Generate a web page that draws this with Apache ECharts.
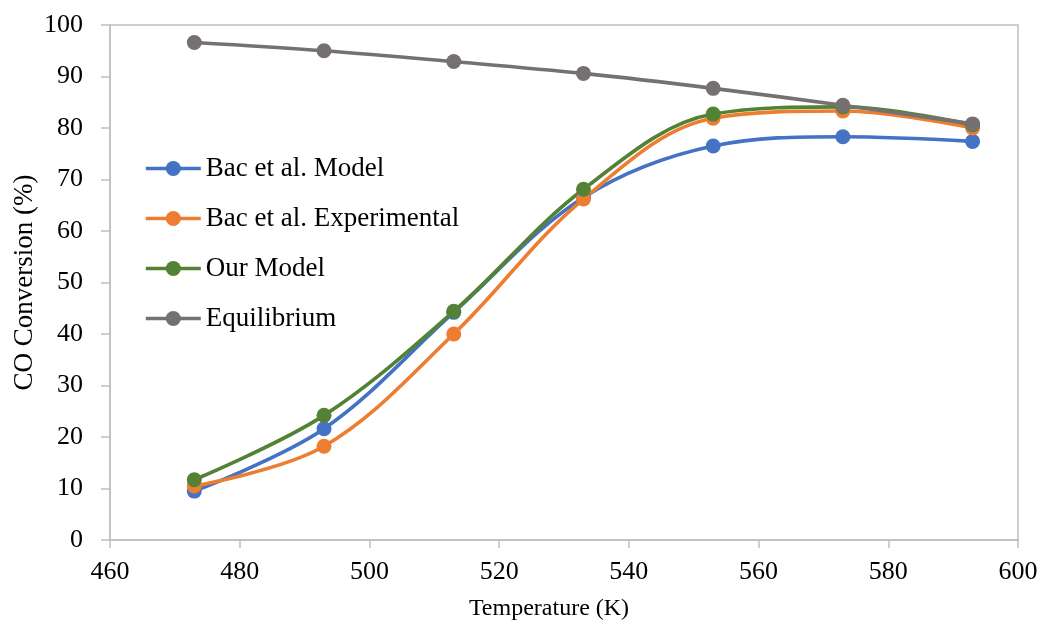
<!DOCTYPE html>
<html>
<head>
<meta charset="utf-8">
<script src="https://cdn.jsdelivr.net/npm/echarts@6/dist/echarts.min.js"></script>
<style>html,body{margin:0;padding:0;background:#fff;}#c{width:1043px;height:626px;}</style>
</head>
<body>
<div id="c"></div>
<script>
const temperatures = [473, 493, 513, 533, 553, 573, 593];
const bacModel = [9.5, 21.6, 44.2, 66.5, 76.5, 78.3, 77.4];
const bacExperimental = [10.5, 18.2, 40.0, 66.2, 81.9, 83.3, 80.0];
const ourModel = [11.7, 24.2, 44.4, 68.1, 82.7, 84.1, 80.6];
const equilibrium = [96.6, 95.0, 92.9, 90.6, 87.7, 84.4, 80.8];
const xTicks = {min: 460, max: 600, interval: 20};
const yTicks = {min: 0, max: 100, interval: 10};

const font = 'Liberation Serif, Times New Roman, serif';
const axisColor = '#bfbfbf';
function pairs(vals){ return temperatures.map((t,i)=>[t, vals[i]]); }
function mk(name, vals, color, smooth){
  return {
    name, type:'line', data: pairs(vals), smooth: smooth,
    symbol:'circle', symbolSize: 15,
    lineStyle:{color, width:3.6},
    itemStyle:{color},
    emphasis:{disabled:true}
  };
}
const chart = echarts.init(document.getElementById('c'), null, {renderer:'canvas'});
chart.setOption({
  animation:false,
  backgroundColor:'#fff',
  grid:{left:110, right:25, top:25, bottom:86, show:true, borderColor:axisColor, borderWidth:1.5, containLabel:false, outerBoundsMode:'none'},
  legend:{
    orient:'vertical', left:139, top:150, itemGap:23,
    itemWidth:55, itemHeight:19,
    lineStyle:{width:3.6},
    textStyle:{fontFamily:font, fontSize:27, color:'#000', padding:[0,0,0,0]},
    data:['Bac et al. Model','Bac et al. Experimental','Our Model','Equilibrium']
  },
  xAxis:{
    type:'value', min:xTicks.min, max:xTicks.max, interval:xTicks.interval,
    name:'Temperature (K)', nameLocation:'middle', nameGap:57, nameMoveOverlap:false,
    nameTextStyle:{fontFamily:font, fontSize:24, color:'#000', padding:[0,30,0,0]},
    axisLine:{show:true, lineStyle:{color:axisColor, width:1.5}},
    axisTick:{show:true, length:8, lineStyle:{color:axisColor, width:1.5}},
    axisLabel:{fontFamily:font, fontSize:26, color:'#000', margin:19},
    splitLine:{show:false}
  },
  yAxis:{
    type:'value', min:yTicks.min, max:yTicks.max, interval:yTicks.interval,
    name:'CO Conversion (%)', nameLocation:'middle', nameGap:72, nameMoveOverlap:false,
    nameTextStyle:{fontFamily:font, fontSize:27, color:'#000'},
    axisLine:{show:true, lineStyle:{color:axisColor, width:1.5}},
    axisTick:{show:true, length:9, lineStyle:{color:axisColor, width:1.5}},
    axisLabel:{fontFamily:font, fontSize:26, color:'#000', margin:27},
    splitLine:{show:false}
  },
  series:[
    mk('Bac et al. Model', bacModel, '#4472C4', 0.35),
    mk('Bac et al. Experimental', bacExperimental, '#ED7D31', 0.35),
    mk('Our Model', ourModel, '#548235', 0.35),
    mk('Equilibrium', equilibrium, '#767171', 0.35)
  ]
});
</script>
</body>
</html>
